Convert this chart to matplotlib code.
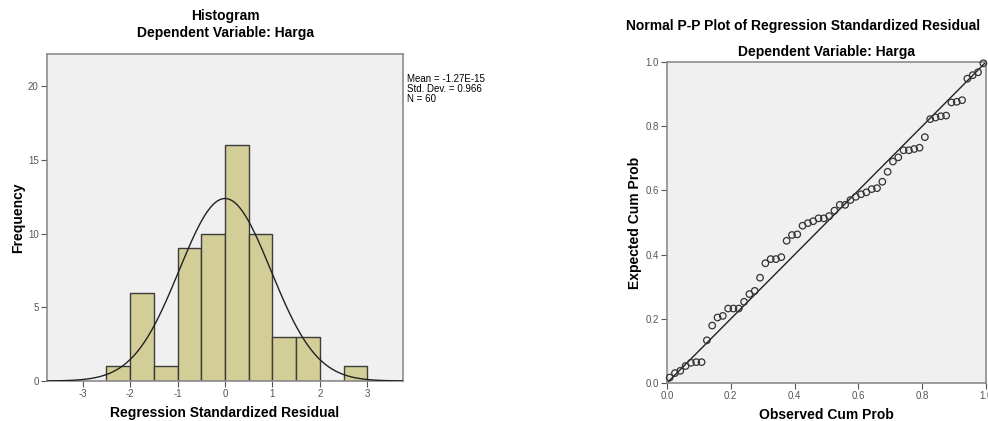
import numpy as np
import matplotlib
matplotlib.use('Agg')
import matplotlib.pyplot as plt

plt.rcParams['font.family'] = ['Liberation Sans', 'DejaVu Sans']
plt.rcParams['axes.unicode_minus'] = False

# histogram of standardized residuals (bin edges and counts)
bin_edges = [-2.5, -2.0, -1.5, -1.0, -0.5, 0.0, 0.5, 1.0, 1.5, 2.0, 2.5, 3.0]
counts = [1, 6, 1, 9, 10, 16, 10, 3, 3, 0, 1]
res_mean = -1.27e-15
res_sd = 0.966
n_obs = 60

# P-P plot: expected cum prob for each observation, in order
expected_cp = [0.017, 0.031, 0.038, 0.053, 0.063, 0.065, 0.065, 0.133, 0.179, 0.204,
               0.209, 0.232, 0.232, 0.232, 0.253, 0.277, 0.287, 0.328, 0.373, 0.386,
               0.386, 0.392, 0.443, 0.461, 0.463, 0.490, 0.498, 0.504, 0.513, 0.513,
               0.520, 0.537, 0.555, 0.555, 0.570, 0.580, 0.588, 0.594, 0.604, 0.607,
               0.627, 0.658, 0.690, 0.703, 0.725, 0.725, 0.729, 0.733, 0.766, 0.822,
               0.827, 0.831, 0.833, 0.874, 0.876, 0.881, 0.948, 0.959, 0.968, 0.996]
observed_cp = [(i + 0.5) / n_obs for i in range(n_obs)]

W, H = 988, 421
fig = plt.figure(figsize=(W / 100, H / 100), dpi=100)
fig.patch.set_facecolor('white')

def px_axes(l, t, r, b):
    return fig.add_axes([l / W, 1 - b / H, (r - l) / W, (b - t) / H])

bg = '#f0f0f0'
spine_col = '#8c8c8c'
tick_col = '#555555'

# ---- histogram ----
ax1 = px_axes(47, 54, 403, 381)
ax1.set_facecolor(bg)
widths = np.diff(bin_edges)
ax1.bar(bin_edges[:-1], counts, width=widths, align='edge',
        color='#d3ce97', edgecolor='#3c3c3c', linewidth=1.0, zorder=2)
xs = np.linspace(-3.75, 3.75, 400)
bw = widths[0]
curve = n_obs * bw * np.exp(-0.5 * ((xs - res_mean) / res_sd) ** 2) / (res_sd * np.sqrt(2 * np.pi))
ax1.plot(xs, curve, color='#222222', linewidth=1.0, zorder=3)
ax1.set_xlim(-3.75, 3.75)
ax1.set_ylim(0, 22.2)
ax1.set_xticks([-3, -2, -1, 0, 1, 2, 3])
ax1.set_yticks([0, 5, 10, 15, 20])
ax1.set_xlabel('Regression Standardized Residual', fontsize=10, fontweight='bold', labelpad=5)
ax1.set_ylabel('Frequency', fontsize=10, fontweight='bold', labelpad=2)
ax1.set_title('Histogram\nDependent Variable: Harga', fontsize=10, fontweight='bold',
              pad=12, linespacing=1.3)
ax1.text(1.011, 0.94, 'Mean = -1.27E-15\nStd. Dev. = 0.966\nN = 60',
         transform=ax1.transAxes, fontsize=7, va='top', ha='left', linespacing=1.05)

# ---- P-P plot ----
ax2 = px_axes(667, 62, 986, 383)
ax2.set_facecolor(bg)
ax2.plot([0, 1], [0, 1], color='#222222', linewidth=1.0, zorder=2)
ax2.scatter(observed_cp, expected_cp, s=22, facecolors='none', edgecolors='#333333',
            linewidths=0.9, zorder=3, clip_on=False)
ax2.set_xlim(0, 1)
ax2.set_ylim(0, 1)
ax2.set_xticks([0, 0.2, 0.4, 0.6, 0.8, 1.0])
ax2.set_yticks([0, 0.2, 0.4, 0.6, 0.8, 1.0])
ax2.set_xticklabels(['0.0', '0.2', '0.4', '0.6', '0.8', '1.0'])
ax2.set_yticklabels(['0.0', '0.2', '0.4', '0.6', '0.8', '1.0'])
ax2.set_xlabel('Observed Cum Prob', fontsize=10, fontweight='bold', labelpad=5)
ax2.set_ylabel('Expected Cum Prob', fontsize=10, fontweight='bold', labelpad=2)
ax2.set_title('Dependent Variable: Harga', fontsize=10, fontweight='bold', pad=4)
fig.text(803 / W, 1 - 26 / H, 'Normal P-P Plot of Regression Standardized Residual',
         fontsize=10, fontweight='bold', ha='center', va='center')

for ax in (ax1, ax2):
    for s in ax.spines.values():
        s.set_color(spine_col)
        s.set_linewidth(1.2)
    ax.tick_params(labelsize=7, colors=tick_col, length=4, width=0.8, pad=2)

fig.savefig('out.png', dpi=100)
